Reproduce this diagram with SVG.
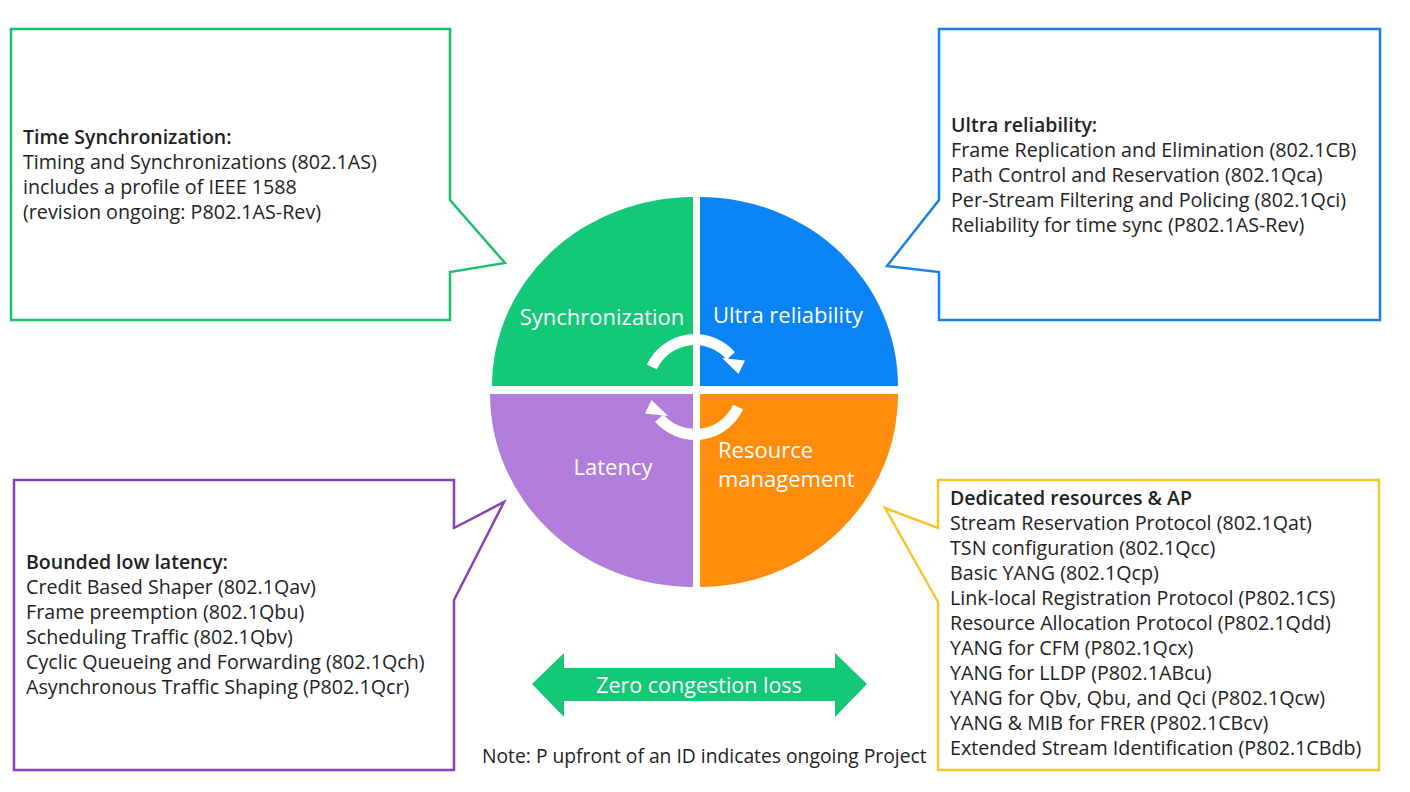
<svg xmlns="http://www.w3.org/2000/svg" width="1410" height="792" viewBox="0 0 1410 792">
<style>
  text { font-family: "Open Sans", "Noto Sans", "Liberation Sans", sans-serif; }
  .box { fill: #ffffff; stroke-width: 2.5; stroke-linejoin: miter; }
  .t { font-size: 19.7px; fill: #222222; }
  .h { font-size: 19.5px; font-weight: 600; fill: #222222; }
  .n { font-size: 19.3px; fill: #222222; }
  .lbl { font-size: 22px; fill: #ffffff; }
  .cyc { fill: none; stroke: #ffffff; stroke-width: 11; stroke-linecap: butt; }
</style>
<rect x="0" y="0" width="1410" height="792" fill="#ffffff"/>

<g id="wheel">
  <g id="q-sync">
    <path d="M693,386 H492 A201,189 0 0 1 693,197 Z" fill="#13C877"/>
    <text class="lbl" x="602" y="325" text-anchor="middle">Synchronization</text>
  </g>
  <g id="q-reliability">
    <path d="M700,386 V197 A198,189 0 0 1 898,386 Z" fill="#0A84F5"/>
    <text class="lbl" x="788" y="323" text-anchor="middle">Ultra reliability</text>
  </g>
  <g id="q-latency">
    <path d="M693,394 V587 A203,193 0 0 1 490,394 Z" fill="#B07DDB"/>
    <text class="lbl" x="613" y="475" text-anchor="middle">Latency</text>
  </g>
  <g id="q-resource">
    <path d="M700,394 H898 A198,193 0 0 1 700,587 Z" fill="#FF8C0A"/>
    <text class="lbl" x="718" y="458">Resource</text>
    <text class="lbl" x="718" y="487">management</text>
  </g>
</g>

<g id="connectors">
  <g id="cycle-top">
    <path class="cyc" d="M651.9,367 A47.5,47.5 0 0 1 730.8,355.8"/>
    <polygon points="722,358 745,360.5 738.5,374" fill="#ffffff"/>
  </g>
  <g id="cycle-bottom">
    <path class="cyc" d="M738.1,407 A47.5,47.5 0 0 1 659.2,418.2"/>
    <polygon points="668,416 645,413.5 651.5,400" fill="#ffffff"/>
  </g>
</g>

<g id="callout-sync">
  <path class="box" stroke="#1DBF6E" d="M11,29 H450 V200 L505,263 L450,272 V320 H11 Z"/>
  <text class="h" x="23" y="144">Time Synchronization:</text>
  <text class="t" x="23" y="169">Timing and Synchronizations (802.1AS)</text>
  <text class="t" x="23" y="194">includes a profile of IEEE 1588</text>
  <text class="t" x="23" y="219">(revision ongoing: P802.1AS-Rev)</text>
</g>

<g id="callout-reliability">
  <path class="box" stroke="#1A80E8" d="M939,29 H1380 V320 H939 V272 L887,266 L939,200 Z"/>
  <text class="h" x="951" y="132">Ultra reliability:</text>
  <text class="t" x="951" y="157">Frame Replication and Elimination (802.1CB)</text>
  <text class="t" x="951" y="182">Path Control and Reservation (802.1Qca)</text>
  <text class="t" x="951" y="207">Per-Stream Filtering and Policing (802.1Qci)</text>
  <text class="t" x="951" y="232">Reliability for time sync (P802.1AS-Rev)</text>
</g>

<g id="callout-latency">
  <path class="box" stroke="#8642BA" d="M14,480 H454 V528 L504,502 L454,600 V770 H14 Z"/>
  <text class="h" x="26" y="569">Bounded low latency:</text>
  <text class="t" x="26" y="594">Credit Based Shaper (802.1Qav)</text>
  <text class="t" x="26" y="619">Frame preemption (802.1Qbu)</text>
  <text class="t" x="26" y="644">Scheduling Traffic (802.1Qbv)</text>
  <text class="t" x="26" y="669">Cyclic Queueing and Forwarding (802.1Qch)</text>
  <text class="t" x="26" y="694">Asynchronous Traffic Shaping (P802.1Qcr)</text>
</g>

<g id="callout-resource">
  <path class="box" stroke="#F7C52E" d="M938,480 H1379 V770 H938 V602 L885,508 L938,528 Z"/>
  <text class="h" x="950" y="505">Dedicated resources &amp; AP</text>
  <text class="t" x="950" y="530">Stream Reservation Protocol (802.1Qat)</text>
  <text class="t" x="950" y="555">TSN configuration (802.1Qcc)</text>
  <text class="t" x="950" y="580">Basic YANG (802.1Qcp)</text>
  <text class="t" x="950" y="605">Link-local Registration Protocol (P802.1CS)</text>
  <text class="t" x="950" y="630">Resource Allocation Protocol (P802.1Qdd)</text>
  <text class="t" x="950" y="655">YANG for CFM (P802.1Qcx)</text>
  <text class="t" x="950" y="680">YANG for LLDP (P802.1ABcu)</text>
  <text class="t" x="950" y="705">YANG for Qbv, Qbu, and Qci (P802.1Qcw)</text>
  <text class="t" x="950" y="730">YANG &amp; MIB for FRER (P802.1CBcv)</text>
  <text class="t" x="950" y="755">Extended Stream Identification (P802.1CBdb)</text>
</g>

<g id="zero-congestion">
  <polygon points="532,684 564,653 564,668 835,668 835,653 867,684 835,717 835,701 564,701 564,717" fill="#13C877"/>
  <text x="699" y="693" text-anchor="middle" font-size="21.5" fill="#ffffff">Zero congestion loss</text>
</g>

<g id="note">
  <text class="n" x="482" y="763">Note: P upfront of an ID indicates ongoing Project</text>
</g>
</svg>
